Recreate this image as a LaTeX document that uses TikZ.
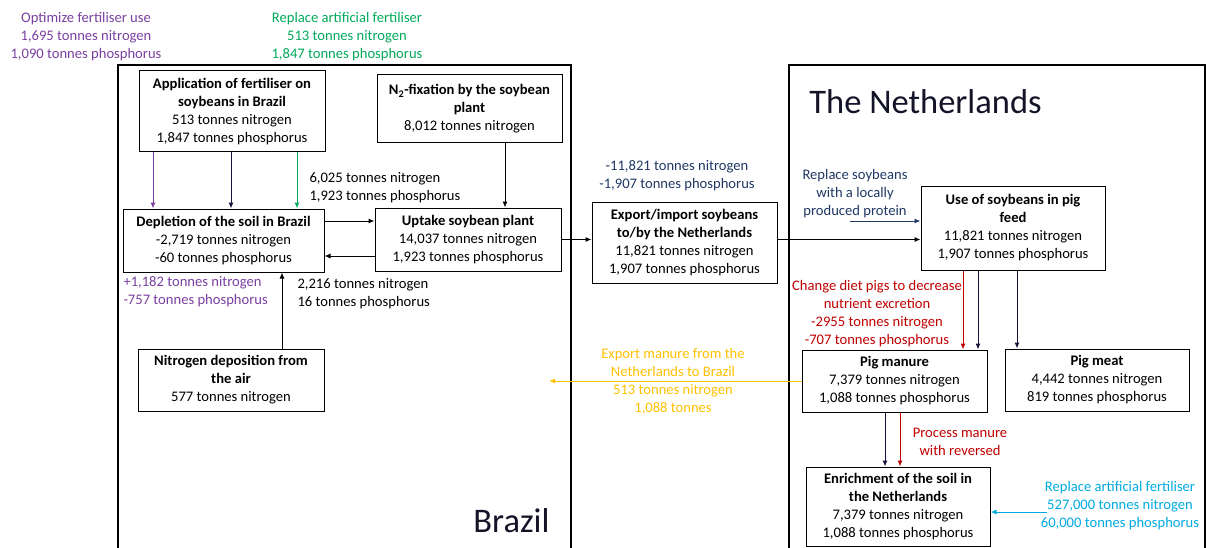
\documentclass[tikz,border=0pt]{standalone}
\usepackage{fontspec}
\setmainfont{Carlito}
\usepackage{tikz}
\usetikzlibrary{arrows.meta}
\definecolor{fertpurple}{RGB}{122,64,160}
\definecolor{fertgreen}{RGB}{0,170,90}
\definecolor{soyblue}{RGB}{31,56,100}
\definecolor{dietred}{RGB}{192,0,0}
\definecolor{manureyellow}{RGB}{255,192,0}
\definecolor{fertcyan}{RGB}{0,170,225}
\definecolor{flownavy}{RGB}{20,20,60}
\definecolor{titleblack}{RGB}{20,20,40}

\tikzset{
  flowbox/.style={draw, line width=1pt, minimum width=186pt, inner sep=0pt, align=center, font=\fontsize{14.6}{18}\selectfont},
  note/.style={align=center, inner sep=0pt, font=\fontsize{14.6}{18}\selectfont},
  country/.style={inner sep=0pt, text=titleblack, font=\fontsize{34.5}{40}\selectfont},
  frame/.style={line width=1.2pt}
}

\begin{document}
\begin{tikzpicture}[x=1pt, y=-1pt, >={Latex[length=6pt,width=5pt]}, line width=1pt]
\useasboundingbox (0,0) rectangle (1206,548);
% country frames
\draw[frame] (118,548) -- (118,65) -- (571,65) -- (571,548);
\draw[frame] (789,548) -- (789,65) -- (1205,65) -- (1205,548);
\node[country] (brazil) at (511.5,521) {Brazil};
\node[country] (nl) at (925.5,102) {The Netherlands};

% Brazil
\node[flowbox, minimum height=81pt] (app) at (232,111.5) {\textbf{Application of fertiliser on}\\\textbf{soybeans in Brazil}\\513 tonnes nitrogen\\1,847 tonnes phosphorus};
\node[flowbox, minimum width=185pt, minimum height=68pt] (n2) at (469.5,109) {\textbf{N\textsubscript{2}-fixation by the soybean}\\\textbf{plant}\\8,012 tonnes nitrogen};
\node[flowbox, minimum width=201pt, minimum height=63pt] (depl) at (223.5,240.5) {\textbf{Depletion of the soil in Brazil}\\-2,719 tonnes nitrogen\\-60 tonnes phosphorus};
\node[flowbox, minimum height=63pt] (upt) at (468,239.5) {\textbf{Uptake soybean plant}\\14,037 tonnes nitrogen\\1,923 tonnes phosphorus};
\node[flowbox, minimum height=62pt] (ndep) at (231,380) {\textbf{Nitrogen deposition from}\\\textbf{the air}\\577 tonnes nitrogen};

% between
\node[flowbox, minimum width=185pt, minimum height=81pt] (exp) at (684.5,242.5) {\textbf{Export/import soybeans}\\\textbf{to/by the Netherlands}\\11,821 tonnes nitrogen\\1,907 tonnes phosphorus};

% the Netherlands
\node[flowbox, minimum width=184pt, minimum height=84pt] (use) at (1013,228) {\textbf{Use of soybeans in pig}\\\textbf{feed}\\11,821 tonnes nitrogen\\1,907 tonnes phosphorus};
\node[flowbox, minimum width=185pt, minimum height=62pt] (pigm) at (894.5,381) {\textbf{Pig manure}\\7,379 tonnes nitrogen\\1,088 tonnes phosphorus};
\node[flowbox, minimum width=184pt, minimum height=62pt] (meat) at (1097,380) {\textbf{Pig meat}\\4,442 tonnes nitrogen\\819 tonnes phosphorus};
\node[flowbox, minimum width=184pt, minimum height=79pt] (enr) at (898,506.5) {\textbf{Enrichment of the soil in}\\\textbf{the Netherlands}\\7,379 tonnes nitrogen\\1,088 tonnes phosphorus};

% notes
\node[note, text=fertpurple] (optim) at (86,37) {Optimize fertiliser use\\1,695 tonnes nitrogen\\1,090 tonnes phosphorus};
\node[note, text=fertgreen] (replbr) at (347,37) {Replace artificial fertiliser\\513 tonnes nitrogen\\1,847 tonnes phosphorus};
\node[note, align=left, anchor=west] (uptin) at (309,187.5) {6,025 tonnes nitrogen\\1,923 tonnes phosphorus};
\node[note, align=left, anchor=west, text=fertpurple] (deplnet) at (123,292) {+1,182 tonnes nitrogen\\-757 tonnes phosphorus};
\node[note, align=left, anchor=west] (uptout) at (297,294) {2,216 tonnes nitrogen\\16 tonnes phosphorus};
\node[note, text=soyblue] (exptot) at (677,176) {-11,821 tonnes nitrogen\\-1,907 tonnes phosphorus};
\node[note, text=soyblue] (protein) at (855,194) {Replace soybeans\\with a locally\\produced protein};
\node[note, text=dietred] (diet) at (877,314) {Change diet pigs to decrease\\nutrient excretion\\-2955 tonnes nitrogen\\-707 tonnes phosphorus};
\node[note, text=manureyellow] (export) at (673,381) {Export manure from the\\Netherlands to Brazil\\513 tonnes nitrogen\\1,088 tonnes};
\node[note, text=dietred] (process) at (960,441.5) {Process manure\\with reversed};
\node[note, text=fertcyan] (replnl) at (1120,506) {Replace artificial fertiliser\\527,000 tonnes nitrogen\\60,000 tonnes phosphorus};

% flows
\draw[->, fertpurple] ([xshift=-79pt]app.south) -- ([xshift=-79pt]app.south |- depl.north);
\draw[->, flownavy] ([xshift=-1pt]app.south) -- ([xshift=-1pt]app.south |- depl.north);
\draw[->, fertgreen] ([xshift=65pt]app.south) -- ([xshift=65pt]app.south |- depl.north);
\draw[->] ([xshift=35.5pt]n2.south) -- ([xshift=35.5pt]n2.south |- upt.north);
\draw[->] ([yshift=19.5pt]depl.east) -- ([yshift=19.5pt]depl.east -| upt.west);
\draw[->] ([yshift=-15.5pt]depl.east -| upt.west) -- ([yshift=-15.5pt]depl.east);
\draw[->] ([xshift=51pt]ndep.north) -- ([xshift=51pt]ndep.north |- depl.south);
\draw[->] (upt.east) -- (upt.east -| exp.west);
\draw[->] (upt.east -| exp.east) -- (upt.east -| use.west);
\coordinate (protin) at (850,221);
\draw[->, soyblue] (protin) -- (protin -| use.west);
\draw[->, dietred] ([xshift=-50pt]use.south) -- ([xshift=-50pt]use.south |- pigm.north);
\draw[->, flownavy] ([xshift=-35pt]use.south) -- ([xshift=-35pt]use.south |- pigm.north);
\draw[->, flownavy] ([xshift=4pt]use.south) -- ([xshift=4pt]use.south |- meat.north);
\coordinate (tobrazil) at (549,381);
\draw[->, manureyellow] (pigm.west) -- (tobrazil);
\draw[->, flownavy] ([xshift=-9.5pt]pigm.south) -- ([xshift=-9.5pt]pigm.south |- enr.north);
\draw[->, dietred] ([xshift=5.5pt]pigm.south) -- ([xshift=5.5pt]pigm.south |- enr.north);
\coordinate (fertin) at (1047,512);
\draw[->, fertcyan] (fertin) -- (fertin -| enr.east);
\end{tikzpicture}
\end{document}
